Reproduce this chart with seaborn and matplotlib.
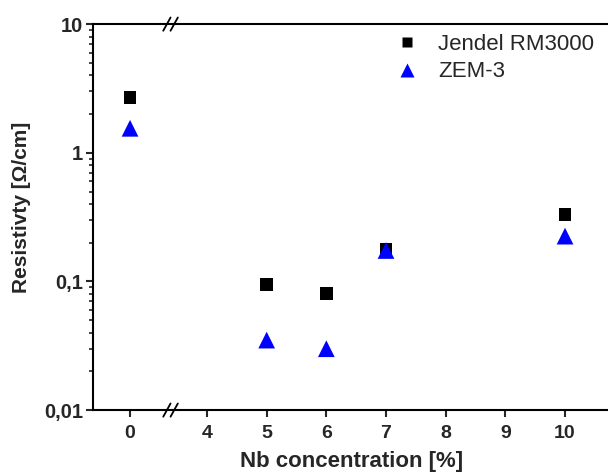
import pandas as pd
import seaborn as sns
import matplotlib.pyplot as plt

nb = [0, 5, 6, 7, 10]
jendel = [2.7, 0.094, 0.081, 0.178, 0.33]
zem3 = [1.55, 0.035, 0.030, 0.174, 0.225]
methods = ['Jendel RM3000', 'ZEM-3']

df = pd.DataFrame({
    'Nb': nb * 2,
    'rho': jendel + zem3,
    'method': [methods[0]] * len(nb) + [methods[1]] * len(nb),
})

sns.set_style('ticks')
plt.rcParams['font.family'] = ['Liberation Sans', 'DejaVu Sans']

fig = plt.figure(figsize=(6.08, 4.73), dpi=100)
bottom, height = 0.133, 0.816
ax1 = fig.add_axes([0.153, bottom, 0.1316, height])
ax2 = fig.add_axes([0.2845, bottom, 0.7155, height], sharey=ax1)

pal = {methods[0]: 'black', methods[1]: 'blue'}
mk = {methods[0]: 's', methods[1]: '^'}
sz = {methods[0]: 85, methods[1]: 145}
for ax, sub in [(ax1, df[df.Nb < 2]), (ax2, df[df.Nb > 2])]:
    sns.scatterplot(data=sub, x='Nb', y='rho', hue='method', style='method',
                    size='method', sizes=sz, palette=pal, markers=mk,
                    edgecolor='none', legend=(ax is ax2), ax=ax)
    ax.set_yscale('log')
    ax.set_xlabel('')
    ax.set_ylabel('')
    for s in ax.spines.values():
        s.set_linewidth(1.5)
        s.set_color('black')
    ax.spines['right'].set_visible(False)
    ax.tick_params(axis='x', direction='out', length=5, width=1.5, pad=6)

ax1.set_ylim(0.01, 10)
ax1.set_xlim(-0.62, 0.72)
ax1.set_xticks([0])
ax2.set_xlim(3.43, 10.72)
ax2.set_xticks(range(4, 11))
ax2.spines['left'].set_visible(False)
ax2.tick_params(axis='y', left=False, which='both', labelleft=False)

ax1.set_yticks([0.01, 0.1, 1, 10])
ax1.set_yticklabels(['0,01', '0,1', '1', '10'], fontweight='bold', fontsize=14.5)
ax1.tick_params(axis='y', which='major', direction='out', length=5, width=1.5, pad=2)
ax1.tick_params(axis='y', which='minor', direction='out', length=3, width=1.2)
for ax in (ax1, ax2):
    for lab in ax.get_xticklabels():
        lab.set_fontweight('bold')
        lab.set_fontsize(14)

# axis break marks
for y in (0, 1):
    for dx in (-0.012, 0.0):
        fig.lines.append(plt.Line2D([0.2865 + dx - 0.006, 0.2865 + dx + 0.006],
                                    [bottom + y * height - 0.014, bottom + y * height + 0.014],
                                    transform=fig.transFigure, color='black', lw=1.3))

fig.text(0.579, 0.025, 'Nb concentration [%]', ha='center', va='center',
         fontsize=16, fontweight='bold')
fig.text(0.036, 0.562, 'Resistivty [Ω/cm]', ha='center', va='center', rotation=90,
         fontsize=15, fontweight='bold')

ax2.legend(loc='upper left', bbox_to_anchor=(0.651, 0.928),
           bbox_transform=fig.transFigure, frameon=False, fontsize=16,
           handlelength=1, handletextpad=0.9, labelspacing=0.28,
           borderpad=0, borderaxespad=0, markerscale=0.85)

fig.savefig('out.png', dpi=100)
